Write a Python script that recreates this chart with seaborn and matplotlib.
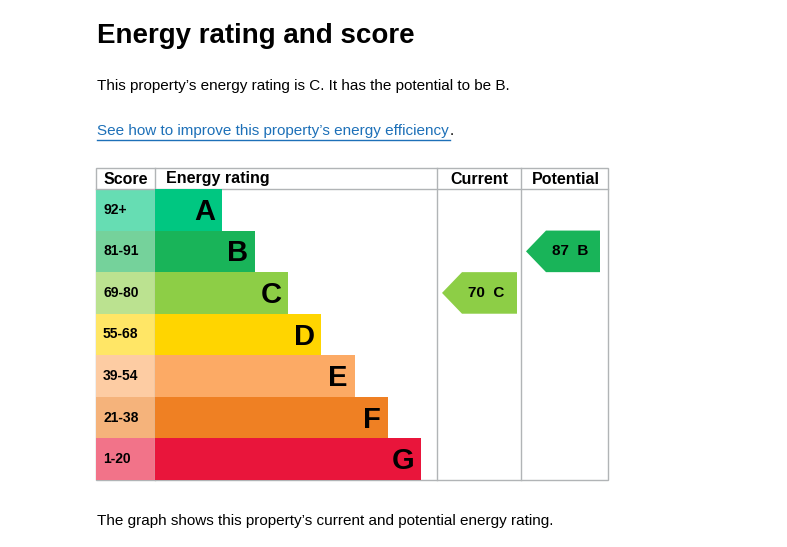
import matplotlib
matplotlib.use("Agg")
import matplotlib.pyplot as plt
import seaborn as sns
import pandas as pd
from matplotlib.patches import Polygon, Rectangle

ratings = ["A", "B", "C", "D", "E", "F", "G"]
scores = ["92+", "81-91", "69-80", "55-68", "39-54", "21-38", "1-20"]
bar_len = [2, 3, 4, 5, 6, 7, 8]
colors = ["#00c781", "#19b459", "#8dce46", "#ffd500", "#fcaa65", "#ef8023", "#e9153b"]
score_colors = ["#66ddb3", "#75d29b", "#bbe290", "#ffe666", "#fdcca3", "#f5b37b", "#f27389"]
current_score, current_rating = 70, "C"
potential_score, potential_rating = 87, "B"

W, H = 787, 547
fig = plt.figure(figsize=(W / 100, H / 100), dpi=100)
font = "Liberation Sans"
plt.rcParams["font.family"] = font

# overlay in pixel coordinates
ov = fig.add_axes([0, 0, 1, 1])
ov.set_xlim(0, W); ov.set_ylim(H, 0); ov.axis("off")

ov.text(97, 36, "Energy rating and score", fontsize=20, fontweight="bold", va="center")
ov.text(97, 86, "This property\u2019s energy rating is C. It has the potential to be B.", fontsize=11, va="center")
ov.text(97, 131, "See how to improve this property\u2019s energy efficiency", fontsize=11, va="center", color="#1d70b8")
ov.plot([97, 450], [140, 140], color="#1d70b8", lw=1)
ov.text(450, 131, ".", fontsize=11, va="center")
ov.text(97, 521, "The graph shows this property\u2019s current and potential energy rating.", fontsize=11, va="center")

top, head, bot = 168, 189, 480
rowh = (bot - head) / 7
grey = "#b1b4b6"
ov.add_patch(Rectangle((96, top), 512, bot - top, fill=False, ec=grey, lw=1))
ov.plot([96, 608], [head, head], color=grey, lw=1)
for x in [155, 437, 521]:
    ov.plot([x, x], [top, bot], color=grey, lw=1)
for x, t in [(104, "Score"), (166, "Energy rating"), (450, "Current"), (532, "Potential")]:
    ov.text(x, 179, t, fontsize=11.5, fontweight="bold", va="center")

for i, (s, c) in enumerate(zip(scores, score_colors)):
    y0 = head + i * rowh
    ov.add_patch(Rectangle((96, y0), 59, rowh, color=c, lw=0))
    ov.text(103, y0 + rowh / 2, s, fontsize=10, fontweight="bold", va="center")

def arrow(x0, x1, idx, label):
    y0 = head + idx * rowh
    y1 = y0 + rowh
    pts = [(x0, (y0 + y1) / 2), (x0 + 20, y0), (x1, y0), (x1, y1), (x0 + 20, y1)]
    ov.add_patch(Polygon(pts, color=colors[idx], lw=0))
    ov.text((x0 + x1) / 2 + 7, (y0 + y1) / 2, label, fontsize=11, fontweight="bold", ha="center", va="center")

arrow(442, 517, ratings.index(current_rating), f"{current_score}  {current_rating}")
arrow(526, 600, ratings.index(potential_rating), f"{potential_score}  {potential_rating}")

# rating bars via seaborn
ax = fig.add_axes([155 / W, 1 - bot / H, (437 - 155) / W, (bot - head) / H])
df = pd.DataFrame({"rating": ratings, "len": bar_len})
sns.barplot(data=df, x="len", y="rating", hue="rating", palette=colors, orient="h",
            width=1.0, legend=False, ax=ax, saturation=1)
ax.set_xlim(0, 282 / 33.25)
ax.set_ylim(6.5, -0.5)
ax.axis("off")
for i, (r, l) in enumerate(zip(ratings, bar_len)):
    ax.text(l - 0.2, i + 0.05, r, fontsize=21, fontweight="bold", ha="right", va="center")

fig.savefig("out.png", dpi=100)
